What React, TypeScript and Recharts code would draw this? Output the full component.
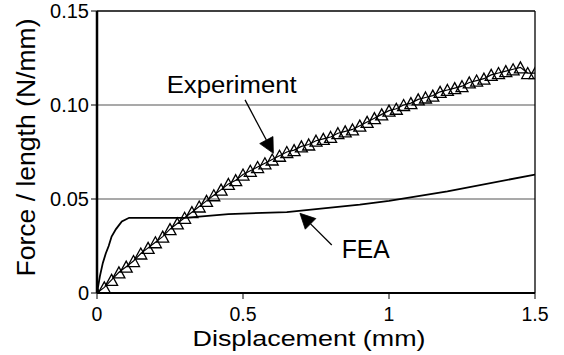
import React from "react";
import {
  LineChart,
  Line,
  XAxis,
  YAxis,
  ReferenceLine,
  ReferenceDot,
  Label,
} from "recharts";

const EXP_X = [
  0, 0.025, 0.05, 0.075, 0.1, 0.125, 0.15, 0.175, 0.2, 0.225, 0.25, 0.275, 0.3,
  0.325, 0.35, 0.375, 0.4, 0.425, 0.45, 0.475, 0.5, 0.525, 0.55, 0.575, 0.6,
  0.625, 0.65, 0.675, 0.7, 0.725, 0.75, 0.775, 0.8, 0.825, 0.85, 0.875, 0.9,
  0.925, 0.95, 0.975, 1.0, 1.025, 1.05, 1.075, 1.1, 1.125, 1.15, 1.175, 1.2,
  1.225, 1.25, 1.275, 1.3, 1.325, 1.35, 1.375, 1.4, 1.425, 1.45, 1.475, 1.5,
];
const EXP_Y = [
  0, 0.003, 0.007, 0.011, 0.014, 0.017, 0.021, 0.024, 0.027, 0.03, 0.034, 0.037,
  0.04, 0.043, 0.046, 0.049, 0.052, 0.055, 0.058, 0.06, 0.063, 0.065, 0.067,
  0.069, 0.071, 0.073, 0.075, 0.076, 0.078, 0.079, 0.081, 0.082, 0.083, 0.085,
  0.086, 0.087, 0.089, 0.091, 0.093, 0.095, 0.097, 0.098, 0.1, 0.101, 0.103,
  0.104, 0.105, 0.107, 0.108, 0.109, 0.11, 0.112, 0.113, 0.114, 0.116, 0.117,
  0.118, 0.119, 0.12, 0.117, 0.117,
];

const FEA_X = [0, 0.01, 0.02, 0.03, 0.04, 0.05, 0.065, 0.085, 0.11, 0.3, 0.45, 0.65, 0.9, 1.0, 1.2, 1.5];
const FEA_Y = [0, 0.009, 0.016, 0.021, 0.025, 0.03, 0.034, 0.038, 0.04, 0.04, 0.042, 0.043, 0.047, 0.049, 0.054, 0.063];

const X_TICKS = [0, 0.5, 1, 1.5];
const X_TICK_LABELS = ["0", "0.5", "1", "1.5"];
const Y_TICKS = [0, 0.05, 0.1, 0.15];
const Y_TICK_LABELS = ["0", "0.05", "0.10", "0.15"];
const GRID_Y = [0.05, 0.1];

const expData = EXP_X.map((x, i) => ({ x, y: EXP_Y[i] }));
const feaData = FEA_X.map((x, i) => ({ x, y: FEA_Y[i] }));

const FONT = '"Liberation Sans", Arial, Helvetica, sans-serif';

const Triangle = (props: any) => {
  const { cx, cy, index } = props;
  if (cx == null || cy == null) return <g key={`t-${index}`} />;
  const d = `M${cx},${cy - 5.5} L${cx + 6},${cy + 5.5} L${cx - 6},${cy + 5.5} Z`;
  return (
    <path key={`t-${index}`} d={d} fill="none" stroke="#000" strokeWidth={1.3} />
  );
};

const arrowShape = (headLen: number, halfW: number) => (props: any) => {
  const { x1, y1, x2, y2 } = props;
  if ([x1, y1, x2, y2].some((v) => v == null || isNaN(v))) return <g />;
  const dx = x2 - x1;
  const dy = y2 - y1;
  const len = Math.sqrt(dx * dx + dy * dy);
  const ux = dx / len;
  const uy = dy / len;
  const bx = x2 - ux * headLen;
  const by = y2 - uy * headLen;
  const px = -uy * halfW;
  const py = ux * halfW;
  return (
    <g>
      <line x1={x1} y1={y1} x2={bx} y2={by} stroke="#000" strokeWidth={1.3} />
      <path
        d={`M${x2},${y2} L${bx + px},${by + py} L${bx - px},${by - py} Z`}
        fill="#000"
        stroke="#000"
        strokeWidth={0.8}
      />
    </g>
  );
};

const textShape = (txt: string, size: number, len: number) => (props: any) => {
  const { cx, cy } = props;
  return (
    <text
      x={cx}
      y={cy}
      fontSize={size}
      fontFamily={FONT}
      fill="#000"
      textLength={len}
      lengthAdjust="spacingAndGlyphs"
    >
      {txt}
    </text>
  );
};

const XTitle = (props: any) => {
  const vb = props.viewBox || { x: 97, y: 293, width: 438, height: 62 };
  return (
    <text
      x={vb.x + vb.width / 2 - 7}
      y={vb.y + 53}
      textAnchor="middle"
      fontSize={22.5}
      fontFamily={FONT}
      fill="#000"
      textLength={233}
      lengthAdjust="spacingAndGlyphs"
    >
      Displacement (mm)
    </text>
  );
};

const YTitle = (props: any) => {
  const vb = props.viewBox || { x: 0, y: 11, width: 97, height: 282 };
  const cx = 35;
  const cy = vb.y + vb.height / 2 - 4.5;
  return (
    <text
      x={cx}
      y={cy}
      transform={`rotate(-90, ${cx}, ${cy})`}
      textAnchor="middle"
      fontSize={25}
      fontFamily={FONT}
      fill="#000"
      textLength={258}
      lengthAdjust="spacingAndGlyphs"
    >
      Force / length (N/mm)
    </text>
  );
};

export default function App() {
  return (
    <div style={{ position: "absolute", left: 0, top: 0, background: "#fff" }}>
      <LineChart
        width={564}
        height={355}
        margin={{ top: 11, right: 29, bottom: 0, left: 0 }}
        style={{ fontFamily: FONT }}
      >
        {GRID_Y.map((g) => (
          <ReferenceLine key={`g-${g}`} y={g} stroke="#555" strokeWidth={1.2} />
        ))}
        <ReferenceLine y={0.15} stroke="#000" strokeWidth={1.6} />
        <ReferenceLine x={1.5} stroke="#000" strokeWidth={1.3} />
        <XAxis
          type="number"
          dataKey="x"
          domain={[0, 1.5]}
          ticks={X_TICKS}
          tickFormatter={(v: number, i: number) => X_TICK_LABELS[i] ?? String(v)}
          height={62}
          tickSize={6}
          tickMargin={8}
          axisLine={{ stroke: "#000", strokeWidth: 2 }}
          tickLine={{ stroke: "#000", strokeWidth: 1 }}
          tick={{ fontSize: 19.5, fill: "#000", fontFamily: FONT }}
          interval={0}
          allowDataOverflow
        >
          <Label content={<XTitle />} />
        </XAxis>
        <YAxis
          type="number"
          domain={[0, 0.15]}
          ticks={Y_TICKS}
          tickFormatter={(v: number, i: number) => Y_TICK_LABELS[i] ?? String(v)}
          width={97}
          tickSize={6}
          tickMargin={2}
          axisLine={{ stroke: "#000", strokeWidth: 2.5 }}
          tickLine={{ stroke: "#000", strokeWidth: 1 }}
          tick={{ fontSize: 20, fill: "#000", fontFamily: FONT }}
          interval={0}
          allowDataOverflow
        >
          <Label content={<YTitle />} />
        </YAxis>
        <Line
          data={feaData}
          dataKey="y"
          type="linear"
          stroke="#000"
          strokeWidth={1.8}
          dot={false}
          isAnimationActive={false}
        />
        <Line
          data={expData}
          dataKey="y"
          type="linear"
          stroke="#000"
          strokeWidth={1.2}
          dot={Triangle}
          isAnimationActive={false}
        />
        <ReferenceLine
          segment={[
            { x: 0.507, y: 0.1027 },
            { x: 0.604, y: 0.0743 },
          ]}
          shape={arrowShape(15, 7.5)}
        />
        <ReferenceLine
          segment={[
            { x: 0.804, y: 0.0255 },
            { x: 0.695, y: 0.0424 },
          ]}
          shape={arrowShape(15, 7.5)}
        />
        <ReferenceDot x={0.2387} y={0.1062} r={0} shape={textShape("Experiment", 23.5, 130)} />
        <ReferenceDot x={0.838} y={0.0186} r={0} shape={textShape("FEA", 25, 48)} />
      </LineChart>
    </div>
  );
}
